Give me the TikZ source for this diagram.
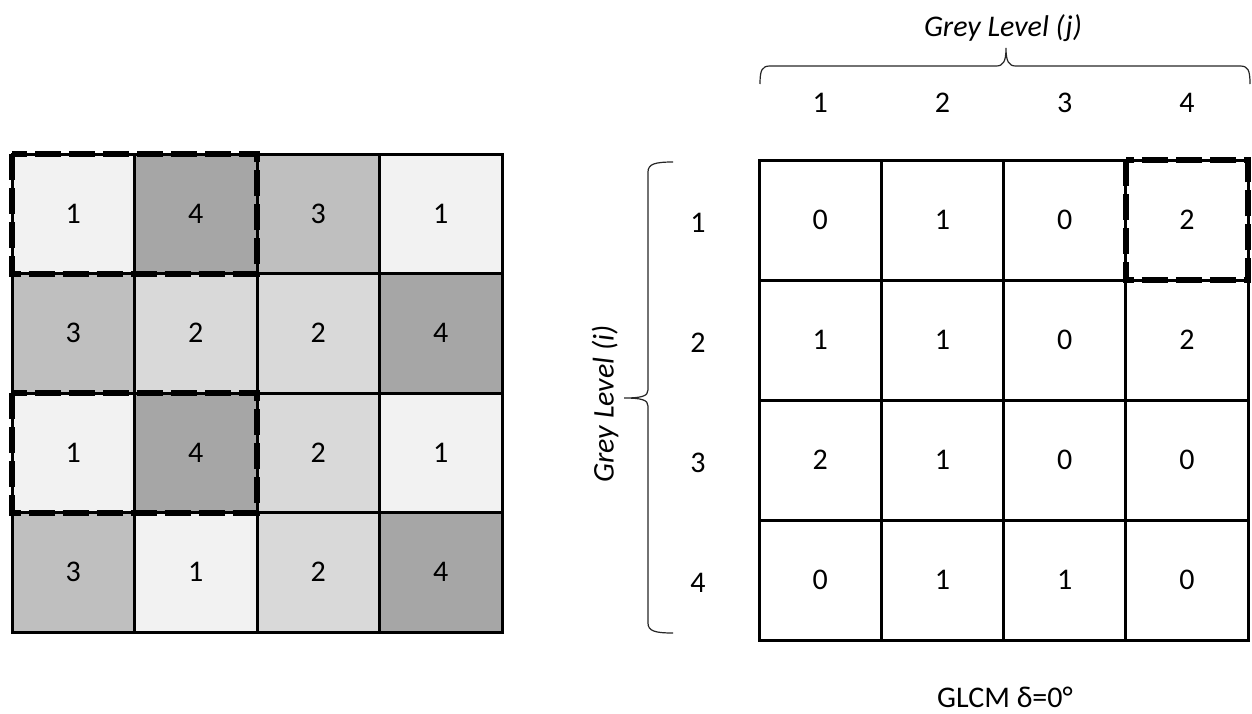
\documentclass[tikz,border=0pt]{standalone}
\usepackage{fontspec}
\setmainfont{Carlito}
\begin{document}
\begin{tikzpicture}[x=0.5pt,y=-0.5pt,
  cellL/.style={draw=black,line width=1.5pt,minimum width=61.25pt,minimum height=59.75pt,inner sep=0pt,outer sep=0pt,font=\fontsize{15}{18}\selectfont},
  cellR/.style={draw=black,line width=1.5pt,minimum width=61.125pt,minimum height=60pt,inner sep=0pt,outer sep=0pt,font=\fontsize{15}{18}\selectfont},
  lab/.style={font=\fontsize{15}{18}\selectfont,inner sep=0pt},
  dashbox/.style={draw=black,line width=3pt,dash pattern=on 13pt off 4pt},
  bracestyle/.style={draw=black!85,line width=0.6pt}]
\useasboundingbox (0,0) rectangle (1252,713);
\definecolor{g1}{HTML}{F2F2F2}
\definecolor{g2}{HTML}{D9D9D9}
\definecolor{g3}{HTML}{BFBFBF}
\definecolor{g4}{HTML}{A6A6A6}
% left image grid
\foreach \r/\row in {1/{1,4,3,1},2/{3,2,2,4},3/{1,4,2,1},4/{3,1,2,4}}{
  \foreach \v [count=\c] in \row {
    \node[cellL,fill=g\v] (L-\r-\c) at ({12+122.5*(\c-0.5)},{154+119.5*(\r-0.5)}) {\v};
  }
}
\draw[dashbox] (L-1-1.north west) rectangle (L-1-2.south east);
\draw[dashbox] (L-3-1.north west) rectangle (L-3-2.south east);
% right GLCM grid
\foreach \r/\row in {1/{0,1,0,2},2/{1,1,0,2},3/{2,1,0,0},4/{0,1,1,0}}{
  \foreach \v [count=\c] in \row {
    \node[cellR,fill=white] (R-\r-\c) at ({759+122.25*(\c-0.5)},{160+120*(\r-0.5)}) {\v};
  }
}
\draw[dashbox] (R-1-4.north west) rectangle (R-1-4.south east);
% column labels
\foreach \c in {1,2,3,4}{
  \node[lab] (cj\c) at ({759+122.25*(\c-0.5)},103) {\c};
}
% row labels
\foreach \r in {1,2,3,4}{
  \node[lab] (ri\r) at (698,{160+120*(\r-0.5)+3}) {\r};
}
% top brace
\draw[bracestyle] (760,84) .. controls (760,70) and (762,66) .. (770,66) -- (996,66)
  .. controls (1003,66) and (1006,62) .. (1006,48)
  .. controls (1006,62) and (1009,66) .. (1016,66) -- (1240,66)
  .. controls (1248,66) and (1250,70) .. (1250,84);
\node[lab,font=\fontsize{15}{18}\selectfont\itshape] (gj) at (1003,28) {Grey Level (j)};
% left brace
\draw[bracestyle] (673,162) .. controls (655,162) and (648,164) .. (648,172) -- (648,390)
  .. controls (648,396) and (642,398) .. (624,398)
  .. controls (642,398) and (648,400) .. (648,406) -- (648,623)
  .. controls (648,631) and (655,633) .. (673,633);
\node[lab,font=\fontsize{15}{18}\selectfont\itshape,rotate=90] (gi) at (605,404) {Grey Level (i)};
% caption
\node[lab] (cap) at (1005,697) {GLCM δ=0°};
\end{tikzpicture}
\end{document}
